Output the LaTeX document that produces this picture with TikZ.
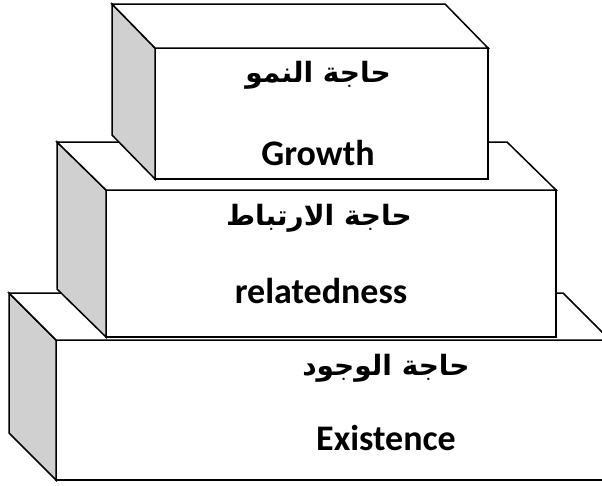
\documentclass[tikz,border=0pt]{standalone}
\usepackage{fontspec}
\setmainfont{Carlito}
\newfontfamily\arabicfont[Script=Arabic]{DejaVu Sans}
\TeXXeTstate=1
\definecolor{sidegray}{RGB}{208,208,208}
\begin{document}
\begin{tikzpicture}[x=1pt,y=-1pt,
  face/.style={draw=black, line width=1.5pt, line join=miter, fill=white},
  sideface/.style={face, fill=sidegray},
  frontface/.style={face, inner sep=0pt, outer sep=0pt},
  entext/.style={anchor=base, inner sep=0pt, font=\fontsize{36}{40}\selectfont\bfseries},
  artext/.style={anchor=base, inner sep=0pt, font=\arabicfont\fontsize{28}{32}\selectfont\bfseries}]
\useasboundingbox (0,0) rectangle (602,485);
\clip (0,0) rectangle (602,485);
% bottom box: Existence
\coordinate (e0) at (56,340);
\node[frontface, minimum width=554pt, minimum height=140pt, anchor=north west] (fE) at (e0) {};
\draw[sideface] (fE.north west) -- ++(-47,-47) -- ++(0,140) -- (fE.south west) -- cycle;
\draw[face] (fE.north west) -- ++(-47,-47) -- ++(554,0) -- (fE.north east) -- cycle;
% middle box: relatedness
\coordinate (r0) at (106,190);
\node[frontface, minimum width=450pt, minimum height=147pt, anchor=north west] (fR) at (r0) {};
\draw[sideface] (fR.north west) -- ++(-49,-48) -- ++(0,147) -- (fR.south west) -- cycle;
\draw[face] (fR.north west) -- ++(-49,-48) -- ++(450,0) -- (fR.north east) -- cycle;
% top box: Growth
\coordinate (g0) at (155,48);
\node[frontface, minimum width=333pt, minimum height=131pt, anchor=north west] (fG) at (g0) {};
\draw[sideface] (fG.north west) -- ++(-43,-44) -- ++(0,131) -- (fG.south west) -- cycle;
\draw[face] (fG.north west) -- ++(-43,-44) -- ++(333,0) -- (fG.north east) -- cycle;
% texts
\node[artext] (tGa) at (318,82) {\beginR حاجة النمو\endR};
\node[entext] (tGe) at (318,165) {Growth};
\node[artext] (tRa) at (319,225) {\beginR حاجة الارتباط\endR};
\node[entext] (tRe) at (321,303) {relatedness};
\node[artext] (tEa) at (386,375) {\beginR حاجة الوجود\endR};
\node[entext] (tEe) at (386,450) {Existence};
\end{tikzpicture}
\end{document}
